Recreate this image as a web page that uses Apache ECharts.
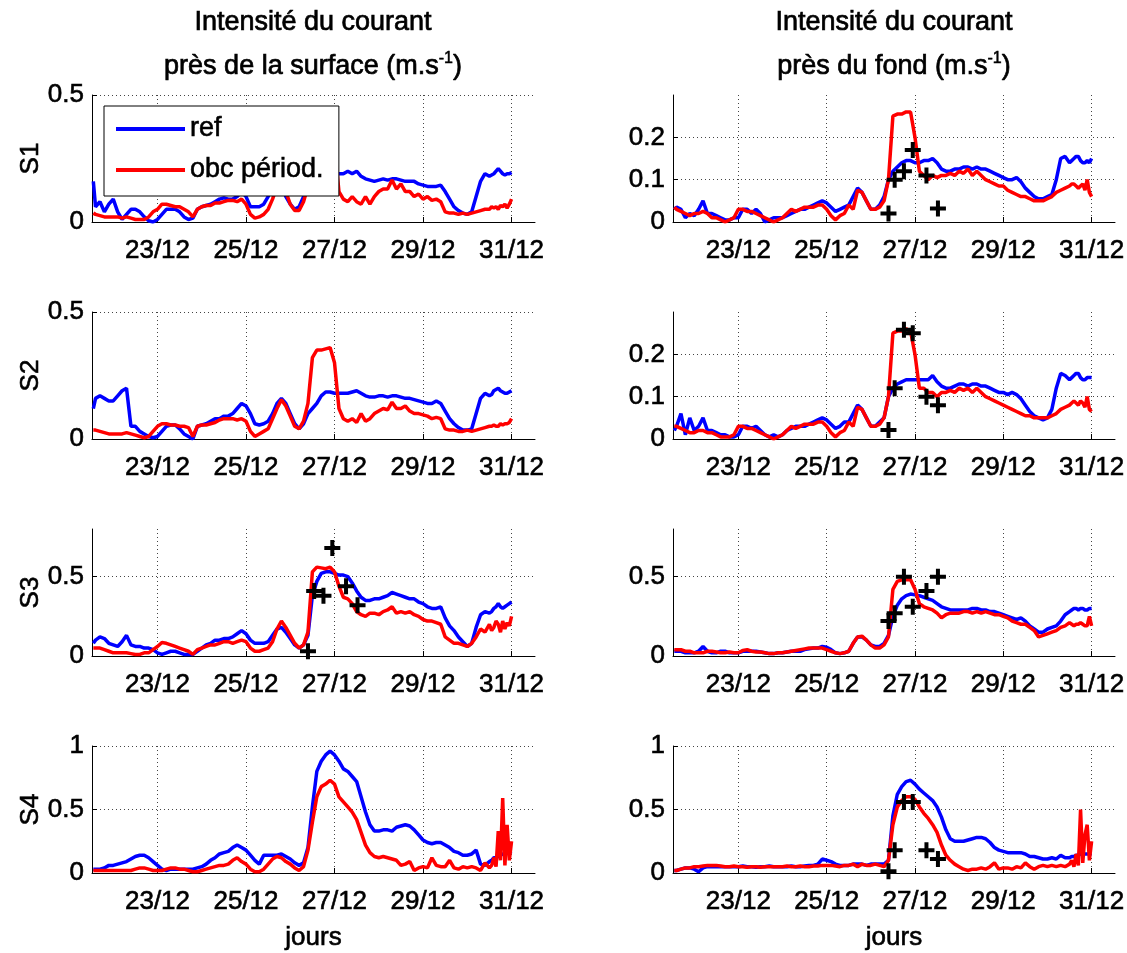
<!DOCTYPE html>
<html>
<head>
<meta charset="utf-8">
<script src="https://cdn.jsdelivr.net/npm/echarts@6/dist/echarts.min.js"></script>
<style>
  html, body { margin: 0; padding: 0; background: #fff; }
  #chart { width: 1127px; height: 953px; }
</style>
</head>
<body>
<div id="chart"></div>
<script>
// Sample times (day of December)
const days = [
  21.55, 21.6, 21.7, 21.8, 21.9,
  22.0, 22.1, 22.2, 22.3, 22.4, 22.5, 22.6, 22.7, 22.8, 22.9,
  23.0, 23.1, 23.2, 23.3, 23.4, 23.5, 23.6, 23.7, 23.8, 23.9,
  24.0, 24.1, 24.2, 24.3, 24.4, 24.5, 24.6, 24.7, 24.8, 24.9,
  25.0, 25.1, 25.2, 25.3, 25.4, 25.5, 25.6, 25.7, 25.8, 25.9,
  26.0, 26.1, 26.2, 26.3, 26.4, 26.5, 26.6, 26.7, 26.8, 26.9,
  27.0, 27.1, 27.2, 27.3, 27.4, 27.5, 27.6, 27.7, 27.8, 27.9,
  28.0, 28.1, 28.2, 28.3, 28.4, 28.5, 28.6, 28.7, 28.8, 28.9,
  29.0, 29.1, 29.2, 29.3, 29.4, 29.5, 29.6, 29.7, 29.8, 29.9,
  30.0, 30.1, 30.2, 30.3, 30.4, 30.5,
  30.55, 30.6, 30.65, 30.7, 30.75, 30.8, 30.85, 30.9, 30.95, 31.0
];

// Near-surface current speed (m/s)
const surfRef1 = [
  0.16, 0.06, 0.08, 0.04, 0.07,
  0.09, 0.04, 0.01, 0.03, 0.05, 0.05, 0.04, 0.02, 0.005, 0.0,
  0.01, 0.03, 0.05, 0.05, 0.05, 0.04, 0.02, 0.01, 0.015, 0.05,
  0.06, 0.065, 0.07, 0.08, 0.09, 0.095, 0.09, 0.09, 0.1, 0.12,
  0.1, 0.06, 0.06, 0.06, 0.07, 0.1, 0.14, 0.16, 0.15, 0.1,
  0.07, 0.05, 0.06, 0.1, 0.13, 0.15, 0.16, 0.175, 0.185, 0.185,
  0.185, 0.19, 0.19, 0.2, 0.19, 0.2, 0.18, 0.17, 0.165, 0.16,
  0.165, 0.17, 0.165, 0.17, 0.17, 0.165, 0.16, 0.16, 0.16, 0.15,
  0.145, 0.14, 0.14, 0.14, 0.145, 0.12, 0.09, 0.06, 0.045, 0.035,
  0.03, 0.04, 0.1, 0.16, 0.19, 0.18,
  0.185, 0.19, 0.2, 0.21, 0.2, 0.19, 0.185, 0.19, 0.19, 0.195
];
const surfObc1 = [
  0.035, 0.03, 0.025, 0.02, 0.02,
  0.02, 0.02, 0.015, 0.02, 0.015, 0.01, 0.01, 0.01, 0.02, 0.04,
  0.05, 0.07, 0.07, 0.065, 0.06, 0.06, 0.05, 0.04, 0.02, 0.05,
  0.06, 0.065, 0.065, 0.075, 0.075, 0.08, 0.085, 0.085, 0.08, 0.09,
  0.07, 0.03, 0.015, 0.02, 0.03, 0.05, 0.09, 0.14, 0.15, 0.12,
  0.07, 0.045, 0.045, 0.08, 0.14, 0.32, 0.35, 0.35, 0.355, 0.36,
  0.3, 0.12, 0.09, 0.08, 0.1, 0.08, 0.07, 0.1, 0.07, 0.1,
  0.12, 0.13, 0.13, 0.165, 0.13, 0.15, 0.12, 0.12, 0.1, 0.11,
  0.09, 0.1, 0.085, 0.09, 0.08, 0.04, 0.035, 0.035, 0.03, 0.035,
  0.03, 0.035, 0.04, 0.045, 0.05, 0.05,
  0.06, 0.055, 0.06, 0.05, 0.065, 0.06, 0.07, 0.055, 0.07, 0.09
];
const surfRef2 = [
  0.12, 0.16, 0.17, 0.16, 0.15,
  0.15, 0.17, 0.19, 0.2, 0.05, 0.05, 0.03, 0.02, 0.01, 0.005,
  0.01, 0.03, 0.05, 0.055, 0.055, 0.04, 0.02, 0.01, 0.0, 0.05,
  0.055, 0.06, 0.07, 0.08, 0.08, 0.09, 0.09, 0.1, 0.12, 0.14,
  0.13, 0.1, 0.06, 0.055, 0.06, 0.07, 0.1, 0.14, 0.16, 0.14,
  0.1, 0.06, 0.04, 0.06, 0.1, 0.12, 0.14, 0.17, 0.185, 0.185,
  0.18, 0.18, 0.18, 0.18, 0.185, 0.19, 0.18, 0.17, 0.165, 0.165,
  0.17, 0.17, 0.165, 0.17, 0.17, 0.165, 0.16, 0.16, 0.155, 0.15,
  0.145, 0.14, 0.14, 0.15, 0.14, 0.11, 0.08, 0.06, 0.045, 0.035,
  0.035, 0.04, 0.1, 0.16, 0.18, 0.17,
  0.175, 0.19, 0.195, 0.2, 0.19, 0.185, 0.18, 0.18, 0.185, 0.19
];
const surfObc2 = [
  0.035, 0.035, 0.03, 0.025, 0.02,
  0.02, 0.02, 0.02, 0.025, 0.02, 0.015, 0.01, 0.005, 0.01, 0.03,
  0.05, 0.06, 0.06, 0.055, 0.055, 0.05, 0.05, 0.045, 0.01, 0.05,
  0.055, 0.055, 0.06, 0.065, 0.075, 0.08, 0.08, 0.08, 0.075, 0.08,
  0.07, 0.03, 0.01, 0.02, 0.03, 0.04, 0.08, 0.12, 0.155, 0.13,
  0.09, 0.05, 0.04, 0.07, 0.14, 0.32, 0.35, 0.35, 0.355, 0.36,
  0.3, 0.12, 0.08, 0.07, 0.08, 0.065, 0.1, 0.07, 0.08, 0.1,
  0.11, 0.12, 0.115, 0.145, 0.12, 0.12, 0.13, 0.11, 0.1, 0.1,
  0.095, 0.09, 0.08, 0.085, 0.08, 0.04, 0.035, 0.035, 0.03, 0.03,
  0.035, 0.03, 0.035, 0.04, 0.045, 0.05,
  0.05, 0.055, 0.05, 0.05, 0.06, 0.055, 0.06, 0.06, 0.065, 0.08
];
const surfRef3 = [
  0.08, 0.1, 0.12, 0.11, 0.08,
  0.07, 0.06, 0.09, 0.13, 0.07, 0.06, 0.06, 0.05, 0.05, 0.04,
  0.02, 0.01, 0.02, 0.03, 0.03, 0.02, 0.01, 0.01, 0.01, 0.03,
  0.05, 0.07, 0.08, 0.1, 0.1, 0.11, 0.11, 0.12, 0.14, 0.16,
  0.14, 0.1, 0.08, 0.08, 0.08, 0.09, 0.13, 0.17, 0.18, 0.15,
  0.11, 0.07, 0.05, 0.07, 0.13, 0.38, 0.47, 0.52, 0.53, 0.53,
  0.52, 0.51, 0.51, 0.5, 0.46, 0.41, 0.37, 0.35, 0.35, 0.36,
  0.36, 0.37, 0.38, 0.4, 0.39, 0.38, 0.37, 0.36, 0.36, 0.34,
  0.33, 0.31, 0.3, 0.3, 0.31, 0.24, 0.19, 0.16, 0.12, 0.09,
  0.06, 0.08, 0.18, 0.26, 0.28, 0.27,
  0.28, 0.3, 0.31, 0.33, 0.31, 0.3, 0.31, 0.32, 0.33, 0.34
];
const surfObc3 = [
  0.05, 0.05, 0.05, 0.04, 0.03,
  0.02, 0.02, 0.02, 0.02, 0.015, 0.01, 0.01, 0.02, 0.02, 0.04,
  0.06, 0.085, 0.08, 0.07, 0.06, 0.05, 0.04, 0.03, 0.01, 0.04,
  0.05, 0.06, 0.07, 0.07, 0.08, 0.09, 0.09, 0.08, 0.09, 0.1,
  0.09, 0.05, 0.03, 0.03, 0.04, 0.05, 0.09, 0.17, 0.22, 0.18,
  0.13, 0.08, 0.05, 0.07, 0.15, 0.53, 0.56, 0.555, 0.55, 0.56,
  0.53, 0.44, 0.37, 0.36, 0.33, 0.28, 0.26, 0.25, 0.27, 0.27,
  0.26, 0.28, 0.29, 0.31, 0.27, 0.28, 0.27, 0.28, 0.26, 0.25,
  0.23, 0.22, 0.22, 0.21, 0.2, 0.12, 0.1, 0.08, 0.08, 0.07,
  0.06, 0.08, 0.12, 0.17, 0.15, 0.2,
  0.16, 0.18, 0.22, 0.2, 0.15, 0.22, 0.17, 0.21, 0.19, 0.25
];
const surfRef4 = [
  0.03, 0.03, 0.03, 0.04, 0.06,
  0.06, 0.07, 0.08, 0.09, 0.11, 0.13, 0.14, 0.14, 0.12, 0.09,
  0.06, 0.03, 0.02, 0.03, 0.03, 0.03, 0.03, 0.03, 0.03, 0.04,
  0.05, 0.07, 0.1, 0.12, 0.15, 0.16, 0.17, 0.2, 0.22, 0.2,
  0.18, 0.14, 0.1, 0.07, 0.14, 0.14, 0.14, 0.14, 0.15, 0.13,
  0.11, 0.08, 0.06, 0.08, 0.2, 0.52, 0.8, 0.88, 0.93, 0.96,
  0.93, 0.88, 0.82, 0.8, 0.76, 0.72, 0.6, 0.48, 0.38, 0.33,
  0.33, 0.34, 0.34, 0.33, 0.36, 0.37, 0.38, 0.37, 0.34, 0.3,
  0.26, 0.24, 0.23, 0.24, 0.24, 0.22, 0.2, 0.17, 0.16, 0.14,
  0.14, 0.15, 0.18, 0.07, 0.06, 0.09,
  0.1, 0.12, 0.12, 0.13, 0.14, 0.15, 0.15, 0.16, 0.16, 0.17
];
const surfObc4 = [
  0.02, 0.02, 0.02, 0.02, 0.02,
  0.02, 0.02, 0.02, 0.02, 0.02, 0.03, 0.04, 0.04, 0.03, 0.02,
  0.02, 0.02, 0.03, 0.04, 0.04, 0.03, 0.03, 0.02, 0.01, 0.01,
  0.02, 0.03, 0.04, 0.05, 0.06, 0.06, 0.07, 0.1, 0.12, 0.09,
  0.07, 0.03, 0.01, 0.01, 0.03, 0.07, 0.11, 0.13, 0.12, 0.09,
  0.07, 0.04, 0.02, 0.05, 0.18, 0.4, 0.6, 0.68, 0.7, 0.73,
  0.7, 0.6, 0.56, 0.52, 0.48, 0.42, 0.32, 0.22, 0.16, 0.13,
  0.12, 0.13, 0.12, 0.11, 0.1, 0.06, 0.07, 0.09, 0.02, 0.04,
  0.05, 0.04, 0.12, 0.06, 0.05, 0.05, 0.1, 0.04, 0.03, 0.05,
  0.04, 0.05, 0.04, 0.02, 0.08, 0.04,
  0.06, 0.12, 0.05, 0.33, 0.1, 0.59, 0.06, 0.38, 0.1, 0.25
];

// Near-bottom current speed (m/s)
const fondRef1 = [
  0.03, 0.035, 0.03, 0.01, 0.02,
  0.015, 0.03, 0.05, 0.02, 0.02, 0.015, 0.01, 0.005, 0.005, 0.01,
  0.01, 0.03, 0.03, 0.02, 0.03, 0.02, 0.0, 0.005, 0.01, 0.01,
  0.01, 0.015, 0.02, 0.025, 0.03, 0.03, 0.035, 0.04, 0.045, 0.05,
  0.045, 0.035, 0.025, 0.03, 0.035, 0.04, 0.06, 0.08, 0.07, 0.05,
  0.03, 0.03, 0.04, 0.06, 0.1, 0.12, 0.13, 0.14, 0.145, 0.145,
  0.14, 0.14, 0.145, 0.145, 0.15, 0.14, 0.125, 0.12, 0.12, 0.125,
  0.125, 0.13, 0.13, 0.125, 0.13, 0.125, 0.125, 0.12, 0.115, 0.11,
  0.105, 0.1, 0.1, 0.105, 0.095, 0.08, 0.07, 0.06, 0.055, 0.055,
  0.06, 0.065, 0.1, 0.15, 0.155, 0.14,
  0.145, 0.15, 0.155, 0.155, 0.145, 0.14, 0.14, 0.145, 0.14, 0.15
];
const fondObc1 = [
  0.035, 0.03, 0.025, 0.02, 0.015,
  0.02, 0.02, 0.025, 0.02, 0.01, 0.01, 0.005, 0.0, 0.005, 0.01,
  0.03, 0.03, 0.025, 0.025, 0.02, 0.015, 0.01, 0.005, 0.0, 0.005,
  0.01, 0.02, 0.03, 0.025, 0.03, 0.035, 0.035, 0.035, 0.04, 0.04,
  0.03, 0.015, 0.005, 0.015, 0.02, 0.04, 0.03, 0.075, 0.07, 0.05,
  0.03, 0.03, 0.035, 0.05, 0.1, 0.25, 0.255, 0.255, 0.26, 0.26,
  0.2, 0.12, 0.11, 0.1, 0.11, 0.105, 0.11, 0.11, 0.115, 0.11,
  0.12, 0.115, 0.125, 0.11, 0.12, 0.11, 0.1, 0.095, 0.09, 0.085,
  0.085, 0.075, 0.07, 0.065, 0.06, 0.06, 0.055, 0.05, 0.05, 0.05,
  0.055, 0.06, 0.07, 0.075, 0.08, 0.085,
  0.09, 0.09, 0.085, 0.08, 0.085, 0.09, 0.075, 0.1, 0.07, 0.06
];
const fondRef2 = [
  0.02, 0.03, 0.06, 0.01, 0.05,
  0.02, 0.03, 0.05, 0.02, 0.02, 0.015, 0.01, 0.01, 0.005, 0.005,
  0.01, 0.03, 0.03, 0.025, 0.03, 0.02, 0.01, 0.005, 0.01, 0.005,
  0.01, 0.02, 0.025, 0.03, 0.03, 0.03, 0.035, 0.04, 0.045, 0.05,
  0.045, 0.035, 0.025, 0.03, 0.04, 0.04, 0.06, 0.08, 0.07, 0.05,
  0.03, 0.03, 0.04, 0.05, 0.1, 0.12, 0.13, 0.135, 0.14, 0.14,
  0.14, 0.14, 0.14, 0.14, 0.15, 0.135, 0.125, 0.12, 0.12, 0.125,
  0.13, 0.13, 0.125, 0.13, 0.13, 0.125, 0.125, 0.12, 0.115, 0.11,
  0.11, 0.105, 0.11, 0.105, 0.095, 0.08, 0.065, 0.055, 0.05, 0.045,
  0.05, 0.07, 0.12, 0.155, 0.15, 0.14,
  0.145, 0.15, 0.155, 0.155, 0.145, 0.14, 0.14, 0.145, 0.145, 0.145
];
const fondObc2 = [
  0.03, 0.03, 0.025, 0.02, 0.015,
  0.015, 0.02, 0.02, 0.015, 0.015, 0.01, 0.005, 0.005, 0.005, 0.01,
  0.03, 0.03, 0.025, 0.025, 0.02, 0.015, 0.01, 0.005, 0.0, 0.005,
  0.01, 0.02, 0.03, 0.025, 0.03, 0.035, 0.035, 0.035, 0.04, 0.04,
  0.03, 0.015, 0.005, 0.015, 0.02, 0.04, 0.03, 0.075, 0.07, 0.05,
  0.03, 0.03, 0.035, 0.05, 0.1, 0.25, 0.255, 0.255, 0.26, 0.255,
  0.2, 0.12, 0.12, 0.11, 0.11, 0.1, 0.11, 0.11, 0.115, 0.11,
  0.12, 0.115, 0.12, 0.11, 0.12, 0.11, 0.1, 0.095, 0.09, 0.085,
  0.08, 0.075, 0.07, 0.065, 0.06, 0.055, 0.055, 0.05, 0.05, 0.05,
  0.05, 0.055, 0.06, 0.07, 0.075, 0.08,
  0.085, 0.09, 0.085, 0.08, 0.09, 0.085, 0.075, 0.1, 0.07, 0.065
];
const fondRef3 = [
  0.03, 0.03, 0.03, 0.02, 0.02,
  0.02, 0.03, 0.06, 0.03, 0.02, 0.02, 0.03, 0.03, 0.02, 0.02,
  0.02, 0.03, 0.03, 0.03, 0.03, 0.025, 0.02, 0.015, 0.015, 0.02,
  0.02, 0.025, 0.03, 0.03, 0.03, 0.04, 0.045, 0.05, 0.05, 0.06,
  0.055, 0.04, 0.02, 0.015, 0.02, 0.03, 0.08, 0.12, 0.12, 0.1,
  0.07, 0.06, 0.06, 0.08, 0.13, 0.25, 0.32, 0.36, 0.38, 0.39,
  0.385, 0.38, 0.37, 0.36, 0.35, 0.33, 0.31, 0.3, 0.29, 0.29,
  0.29, 0.29, 0.29, 0.3, 0.3, 0.29, 0.29, 0.28, 0.28, 0.27,
  0.26, 0.25, 0.24, 0.23, 0.24, 0.22, 0.19, 0.17, 0.15, 0.15,
  0.17, 0.18, 0.19, 0.22, 0.26, 0.28,
  0.29, 0.3, 0.3, 0.29, 0.3, 0.3, 0.29, 0.29, 0.3, 0.3
];
const fondObc3 = [
  0.04, 0.04, 0.04, 0.03, 0.03,
  0.02, 0.02, 0.02, 0.03, 0.03, 0.025, 0.02, 0.02, 0.025, 0.02,
  0.02, 0.035, 0.04, 0.03, 0.025, 0.025, 0.02, 0.015, 0.015, 0.02,
  0.02, 0.025, 0.03, 0.035, 0.04, 0.045, 0.05, 0.05, 0.05, 0.05,
  0.04, 0.03, 0.02, 0.015, 0.02, 0.03, 0.08, 0.12, 0.125, 0.1,
  0.07, 0.05, 0.05, 0.07, 0.12, 0.42, 0.47, 0.48, 0.48, 0.48,
  0.42, 0.33, 0.31, 0.3, 0.29, 0.27, 0.24, 0.26, 0.27, 0.27,
  0.27, 0.28, 0.28, 0.27, 0.28, 0.27, 0.28, 0.27, 0.26, 0.26,
  0.25, 0.24, 0.22, 0.21, 0.2, 0.2, 0.18, 0.16, 0.12, 0.13,
  0.14, 0.15, 0.16, 0.18, 0.19, 0.21,
  0.2, 0.19, 0.2, 0.2, 0.21, 0.2, 0.19, 0.19, 0.25, 0.19
];
const fondRef4 = [
  0.02, 0.02, 0.03, 0.04, 0.04,
  0.03, 0.01, 0.04, 0.05, 0.05, 0.05, 0.05, 0.05, 0.05, 0.05,
  0.05, 0.055, 0.05, 0.05, 0.045, 0.05, 0.05, 0.055, 0.05, 0.05,
  0.05, 0.05, 0.055, 0.05, 0.05, 0.055, 0.06, 0.06, 0.07, 0.11,
  0.1, 0.09, 0.07, 0.06, 0.06, 0.06, 0.07, 0.07, 0.07, 0.06,
  0.07, 0.07, 0.07, 0.07, 0.1, 0.45, 0.62, 0.68, 0.72, 0.73,
  0.7, 0.66, 0.63, 0.6, 0.57, 0.52, 0.44, 0.34, 0.27, 0.25,
  0.25, 0.25, 0.26, 0.27, 0.28, 0.28, 0.27, 0.24, 0.2, 0.18,
  0.17, 0.16, 0.16, 0.16, 0.16, 0.15, 0.13, 0.13, 0.12, 0.11,
  0.11, 0.12, 0.11, 0.14, 0.12, 0.12,
  0.13, 0.13, 0.14, 0.14, 0.15, 0.15, 0.15, 0.15, 0.15, 0.15
];
const fondObc4 = [
  0.02, 0.02, 0.03, 0.04, 0.04,
  0.05, 0.05, 0.055, 0.06, 0.06, 0.06, 0.055, 0.05, 0.05, 0.055,
  0.05, 0.05, 0.045, 0.05, 0.05, 0.045, 0.05, 0.05, 0.05, 0.05,
  0.05, 0.055, 0.05, 0.05, 0.055, 0.05, 0.05, 0.055, 0.055, 0.06,
  0.06, 0.06, 0.055, 0.05, 0.06, 0.06, 0.07, 0.05, 0.07, 0.06,
  0.06, 0.07, 0.06, 0.05, 0.1, 0.38, 0.52, 0.57, 0.6, 0.6,
  0.58, 0.52, 0.47, 0.43, 0.38, 0.32, 0.22, 0.14, 0.1, 0.07,
  0.05, 0.03, 0.02, 0.03, 0.03, 0.04, 0.03, 0.05, 0.08, 0.03,
  0.04, 0.04, 0.03, 0.05, 0.04, 0.08, 0.05, 0.03, 0.05, 0.06,
  0.05, 0.06, 0.05, 0.06, 0.05, 0.07,
  0.1, 0.05, 0.15, 0.06, 0.5, 0.08, 0.3, 0.38, 0.1, 0.25
];

// Observed speeds (crosses)
const obsDays = [26.4, 26.54, 26.75, 26.95, 27.26, 27.52];
const obsSurf3 = [0.03, 0.41, 0.38, 0.68, 0.44, 0.32];
const obsFond1 = [0.02, 0.10, 0.12, 0.17, 0.11, 0.032];
const obsFond2 = [0.021, 0.12, 0.258, 0.25, 0.10, 0.08];
const obsFond3 = [0.22, 0.27, 0.50, 0.31, 0.41, 0.50];
const obsFond4 = [0.013, 0.18, 0.56, 0.56, 0.18, 0.11];

// Axis ticks
const dayTicks = [23, 25, 27, 29, 31];
const stationNames = ['S1', 'S2', 'S3', 'S4'];
const seriesNames = ['ref', 'obc périod.'];

// ---- layout & styling ----
const FONT = 'Liberation Sans';
const colLeft = [92, 673];
const colWidth = [443, 442];
const rowTop = [95, 312, 529, 746];
const rowHeight = 127;
const BLUE = '#0000ff';
const RED = '#ff0000';
const PLUS = 'path://M-1,-0.25L-0.25,-0.25L-0.25,-1L0.25,-1L0.25,-0.25L1,-0.25L1,0.25L0.25,0.25L0.25,1L-0.25,1L-0.25,0.25L-1,0.25Z';

const panels = [
  { row: 0, col: 0, ref: surfRef1, obc: surfObc1, obs: null,     max: 0.5, ticks: [0, 0.5] },
  { row: 0, col: 1, ref: fondRef1, obc: fondObc1, obs: obsFond1, max: 0.3, ticks: [0, 0.1, 0.2] },
  { row: 1, col: 0, ref: surfRef2, obc: surfObc2, obs: null,     max: 0.5, ticks: [0, 0.5] },
  { row: 1, col: 1, ref: fondRef2, obc: fondObc2, obs: obsFond2, max: 0.3, ticks: [0, 0.1, 0.2] },
  { row: 2, col: 0, ref: surfRef3, obc: surfObc3, obs: obsSurf3, max: 0.8, ticks: [0, 0.5] },
  { row: 2, col: 1, ref: fondRef3, obc: fondObc3, obs: obsFond3, max: 0.8, ticks: [0, 0.5] },
  { row: 3, col: 0, ref: surfRef4, obc: surfObc4, obs: null,     max: 1,   ticks: [0, 0.5, 1] },
  { row: 3, col: 1, ref: fondRef4, obc: fondObc4, obs: obsFond4, max: 1,   ticks: [0, 0.5, 1] }
];

const zip = (xs, ys) => xs.map((x, i) => [x, ys[i]]);
// slightly heavier glyphs than the plain regular face
const textBase = { fontFamily: FONT, color: '#000', textBorderColor: '#000', textBorderWidth: 0.6 };

const grids = [], xAxes = [], yAxes = [], series = [];
panels.forEach((p, i) => {
  grids.push({
    left: colLeft[p.col], top: rowTop[p.row],
    width: colWidth[p.col], height: rowHeight,
    outerBoundsMode: 'none'
  });
  xAxes.push({
    gridIndex: i, type: 'value', min: 21.52, max: 31.53,
    axisLine: { show: true, onZero: false, lineStyle: { color: '#000', width: 1 } },
    axisTick: { show: true, inside: true, length: 5, customValues: dayTicks, lineStyle: { color: '#000' } },
    axisLabel: Object.assign({ customValues: dayTicks, formatter: v => v + '/12', fontSize: 26, margin: 16 }, textBase),
    splitLine: { show: true, lineStyle: { color: '#444', type: [1, 3], width: 1 } },
    name: p.row === 3 ? 'jours' : '',
    nameLocation: 'middle', nameGap: 52,
    nameTextStyle: Object.assign({ fontSize: 26 }, textBase)
  });
  yAxes.push({
    gridIndex: i, type: 'value', min: 0, max: p.max,
    axisLine: { show: true, onZero: false, lineStyle: { color: '#000', width: 1 } },
    axisTick: { show: true, inside: true, length: 5, customValues: p.ticks, lineStyle: { color: '#000' } },
    axisLabel: Object.assign({ customValues: p.ticks, fontSize: 26, margin: 8 }, textBase),
    splitLine: { show: true, lineStyle: { color: '#444', type: [1, 3], width: 1 } },
    name: p.col === 0 ? stationNames[p.row] : '',
    nameLocation: 'middle', nameGap: 48,
    nameTextStyle: Object.assign({ fontSize: 26 }, textBase)
  });
  series.push({
    type: 'line', name: seriesNames[0], xAxisIndex: i, yAxisIndex: i,
    data: zip(days, p.ref), symbol: 'none', showSymbol: false,
    lineStyle: { color: BLUE, width: 3.5 }, itemStyle: { color: BLUE }, z: 2
  });
  series.push({
    type: 'line', name: seriesNames[1], xAxisIndex: i, yAxisIndex: i,
    data: zip(days, p.obc), symbol: 'none', showSymbol: false,
    lineStyle: { color: RED, width: 3.5 }, itemStyle: { color: RED }, z: 2
  });
  if (p.obs) {
    series.push({
      type: 'scatter', xAxisIndex: i, yAxisIndex: i,
      data: zip(obsDays, p.obs), symbol: PLUS, symbolSize: 16,
      itemStyle: { color: '#000', opacity: 1 }, z: 3
    });
  }
});

const titleRich = { sup: { fontSize: 16, fontFamily: FONT, fill: '#000', stroke: '#000', lineWidth: 0.5, verticalAlign: 'top', lineHeight: 32 } };
const titleText = (x, y, text) => ({
  type: 'text', x: x, y: y, silent: true,
  style: {
    text: text, fontSize: 27, fontFamily: FONT, fill: '#000', stroke: '#000', lineWidth: 0.7,
    align: 'center', verticalAlign: 'middle', lineHeight: 32, rich: titleRich
  }
});

const chart = echarts.init(document.getElementById('chart'), null, { renderer: 'canvas' });
chart.setOption({
  animation: false,
  backgroundColor: '#fff',
  grid: grids,
  xAxis: xAxes,
  yAxis: yAxes,
  series: series,
  legend: {
    data: seriesNames.map(n => ({ name: n, icon: 'rect' })),
    orient: 'vertical', left: 104, top: 106,
    itemWidth: 69, itemHeight: 4, itemGap: 7,
    padding: [6, 15, 9, 12],
    backgroundColor: '#fff', borderColor: '#000', borderWidth: 1, borderRadius: 0,
    selectedMode: false,
    textStyle: Object.assign({ fontSize: 27, lineHeight: 34 }, textBase)
  },
  graphic: [
    titleText(313, 23, 'Intensité du courant'),
    titleText(313, 67, 'près de la surface (m.s{sup|-1})'),
    titleText(894, 23, 'Intensité du courant'),
    titleText(894, 67, 'près du fond (m.s{sup|-1})')
  ]
});
</script>
</body>
</html>
